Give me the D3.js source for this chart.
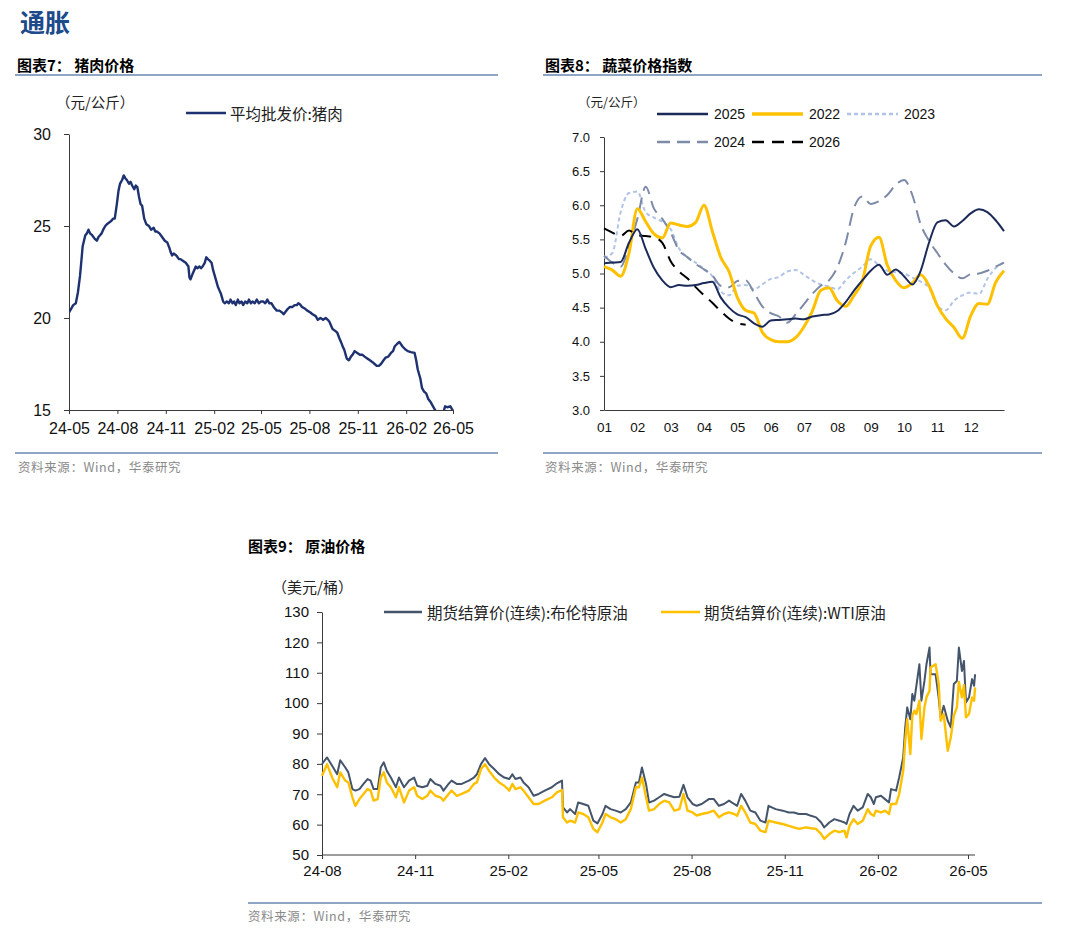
<!DOCTYPE html>
<html><head><meta charset="utf-8">
<script src="https://cdn.jsdelivr.net/npm/d3@7/dist/d3.min.js"></script>
<style>
body{margin:0;background:#fff;}
svg{display:block;}
</style></head><body>
<svg id="c" width="1080" height="946"></svg>
<script>
// ---------------- DATA ----------------
// 图表7 猪肉价格
const porkDates = ["2024-05-01","2024-05-05","2024-05-09","2024-05-14","2024-05-18","2024-05-22","2024-05-27","2024-06-01","2024-06-04","2024-06-07","2024-06-10","2024-06-14","2024-06-19","2024-06-23","2024-06-26","2024-06-29","2024-07-02","2024-07-05","2024-07-09","2024-07-12","2024-07-17","2024-07-21","2024-07-24","2024-07-27","2024-07-31","2024-08-03","2024-08-06","2024-08-10","2024-08-13","2024-08-16","2024-08-19","2024-08-23","2024-08-26","2024-08-29","2024-09-02","2024-09-05","2024-09-08","2024-09-11","2024-09-14","2024-09-17","2024-09-21","2024-09-25","2024-09-30","2024-10-04","2024-10-09","2024-10-12","2024-10-15","2024-10-20","2024-10-25","2024-10-30","2024-11-04","2024-11-08","2024-11-10","2024-11-13","2024-11-16","2024-11-21","2024-11-26","2024-11-29","2024-12-04","2024-12-09","2024-12-14","2024-12-16","2024-12-18","2024-12-22","2024-12-25","2024-12-28","2024-12-31","2025-01-04","2025-01-07","2025-01-10","2025-01-14","2025-01-17","2025-01-20","2025-01-24","2025-01-27","2025-01-30","2025-02-02","2025-02-05","2025-02-08","2025-02-11","2025-02-14","2025-02-18","2025-02-21","2025-02-25","2025-03-01","2025-03-04","2025-03-08","2025-03-11","2025-03-14","2025-03-18","2025-03-21","2025-03-25","2025-03-28","2025-04-01","2025-04-05","2025-04-08","2025-04-12","2025-04-15","2025-04-19","2025-04-23","2025-04-27","2025-05-01","2025-05-05","2025-05-09","2025-05-13","2025-05-17","2025-05-21","2025-05-25","2025-05-31","2025-06-05","2025-06-10","2025-06-13","2025-06-17","2025-06-21","2025-06-25","2025-06-30","2025-07-04","2025-07-08","2025-07-11","2025-07-14","2025-07-18","2025-07-24","2025-07-28","2025-08-03","2025-08-07","2025-08-13","2025-08-17","2025-08-22","2025-08-27","2025-09-01","2025-09-05","2025-09-08","2025-09-14","2025-09-19","2025-09-23","2025-09-27","2025-09-30","2025-10-04","2025-10-06","2025-10-09","2025-10-11","2025-10-15","2025-10-19","2025-10-22","2025-10-26","2025-10-31","2025-11-05","2025-11-10","2025-11-14","2025-11-19","2025-11-24","2025-11-29","2025-12-03","2025-12-07","2025-12-11","2025-12-15","2025-12-20","2025-12-24","2025-12-29","2026-01-03","2026-01-07","2026-01-10","2026-01-15","2026-01-19","2026-01-25","2026-01-30","2026-02-04","2026-02-10","2026-02-17","2026-02-20","2026-02-23","2026-02-28","2026-03-03","2026-03-07","2026-03-11","2026-03-15","2026-03-19","2026-03-24","2026-03-28","2026-04-01","2026-04-06","2026-04-11","2026-04-16","2026-04-20","2026-04-26","2026-05-01"];
const porkValues = [20.3,20.5,20.7,20.8,21.4,22.3,23.9,24.5,24.6,24.8,24.6,24.5,24.3,24.2,24.4,24.5,24.6,24.8,25.0,25.1,25.2,25.3,25.4,25.4,26.2,26.9,27.3,27.5,27.75,27.6,27.5,27.3,27.4,27.2,27.0,27.2,27.1,26.6,26.2,26.1,25.4,25.1,25.0,24.8,24.9,24.7,24.7,24.6,24.4,24.2,24.1,23.8,23.6,23.4,23.5,23.4,23.2,23.2,23.1,23.0,22.8,22.2,22.1,22.4,22.6,22.8,22.7,22.8,22.7,22.8,23.0,23.3,23.2,23.1,23.0,22.6,22.3,22.0,21.7,21.5,21.3,20.9,20.8,20.9,20.8,21.0,20.8,20.9,20.7,21.0,20.8,20.9,20.7,20.9,20.8,21.0,20.8,20.9,20.8,21.0,20.8,20.9,20.9,20.8,21.0,20.8,20.8,20.6,20.4,20.4,20.3,20.2,20.35,20.5,20.6,20.6,20.7,20.7,20.8,20.75,20.6,20.5,20.4,20.3,20.2,20.1,19.9,20.0,19.9,20.0,19.9,19.8,19.4,19.3,19.2,18.9,18.7,18.4,18.3,18.0,17.8,17.7,17.9,18.0,18.2,18.1,18.0,18.0,17.9,17.8,17.7,17.6,17.5,17.4,17.4,17.5,17.7,17.85,17.9,18.1,18.2,18.45,18.6,18.7,18.45,18.3,18.2,18.15,18.1,17.7,17.2,16.7,16.2,16.0,15.9,15.6,15.45,15.2,15.0,14.8,14.6,14.7,15.2,15.15,15.2,14.95];
const porkTicks = ["2024-05","2024-08","2024-11","2025-02","2025-05","2025-08","2025-11","2026-02","2026-05"];
const porkYTicks = [15,20,25,30];

// 图表8 蔬菜价格指数 (month position: 1 = 1月初, 13 = 12月末)
const vegPositions = [1,1.25,1.5,1.75,2,2.25,2.5,2.75,3,3.25,3.5,3.75,4,4.25,4.5,4.75,5,5.25,5.5,5.75,6,6.25,6.5,6.75,7,7.25,7.5,7.75,8,8.25,8.5,8.75,9,9.25,9.5,9.75,10,10.25,10.5,10.75,11,11.25,11.5,11.75,12,12.25,12.5,12.75,13];
const veg2025 = [5.15,5.16,5.17,5.45,5.65,5.36,5.08,4.9,4.8,4.83,4.82,4.83,4.86,4.88,4.65,4.5,4.4,4.36,4.27,4.22,4.31,4.32,4.33,4.34,4.33,4.37,4.39,4.4,4.45,4.58,4.75,4.9,5.04,5.13,4.98,5.06,4.96,4.84,5.04,5.45,5.75,5.78,5.69,5.77,5.88,5.94,5.9,5.78,5.62];
const veg2022 = [5.1,5.05,4.96,5.3,5.95,5.76,5.58,5.52,5.74,5.71,5.69,5.75,6.0,5.62,5.24,5.03,4.65,4.46,4.42,4.14,4.03,4.0,4.0,4.06,4.22,4.45,4.75,4.79,4.6,4.52,4.68,4.89,5.4,5.53,5.12,4.9,4.79,4.86,4.98,4.82,4.53,4.34,4.21,4.05,4.38,4.56,4.55,4.87,5.04];
const veg2023 = [5.23,5.3,5.9,6.18,6.2,5.9,5.82,5.76,5.65,5.37,5.24,5.16,5.07,4.96,4.74,4.68,4.82,4.83,4.77,4.84,4.92,4.95,5.03,5.05,4.98,4.9,4.84,4.81,4.77,4.9,5.01,5.1,5.21,5.12,5.04,5.02,5.0,4.94,4.88,4.79,4.53,4.46,4.6,4.68,4.72,4.7,4.92,5.08,5.16];
const veg2024 = [5.26,5.16,5.1,5.4,5.8,6.27,5.95,5.8,5.6,5.34,5.24,5.14,5.06,4.97,4.82,4.8,4.89,4.9,4.72,4.52,4.42,4.37,4.28,4.4,4.55,4.7,4.82,4.9,5.09,5.45,5.96,6.13,6.02,6.06,6.15,6.3,6.37,6.15,5.72,5.48,5.3,5.13,5.0,4.93,4.99,5.0,5.04,5.1,5.16];
const veg2026 = [5.66,5.6,5.55,5.63,5.56,5.55,5.53,5.45,5.18,5.03,4.93,4.8,4.68,4.57,4.45,4.34,4.27,4.25];
const vegMonthLabels = ["01","02","03","04","05","06","07","08","09","10","11","12"];
const vegYTicks = [3.0,3.5,4.0,4.5,5.0,5.5,6.0,6.5,7.0];

// 图表9 原油价格
const oilDates = ["2024-08-01","2024-08-06","2024-08-11","2024-08-16","2024-08-19","2024-08-24","2024-08-27","2024-08-31","2024-09-03","2024-09-07","2024-09-11","2024-09-15","2024-09-18","2024-09-21","2024-09-25","2024-09-28","2024-10-01","2024-10-04","2024-10-08","2024-10-13","2024-10-16","2024-10-21","2024-10-26","2024-10-31","2024-11-03","2024-11-08","2024-11-13","2024-11-16","2024-11-21","2024-11-26","2024-11-29","2024-12-04","2024-12-07","2024-12-12","2024-12-17","2024-12-24","2024-12-29","2025-01-01","2025-01-05","2025-01-09","2025-01-13","2025-01-18","2025-01-23","2025-01-28","2025-02-02","2025-02-05","2025-02-08","2025-02-13","2025-02-16","2025-02-21","2025-02-26","2025-03-03","2025-03-09","2025-03-16","2025-03-21","2025-03-26","2025-03-27","2025-03-31","2025-04-03","2025-04-08","2025-04-11","2025-04-16","2025-04-21","2025-04-26","2025-04-30","2025-05-05","2025-05-08","2025-05-13","2025-05-18","2025-05-23","2025-05-28","2025-06-02","2025-06-07","2025-06-10","2025-06-13","2025-06-17","2025-06-20","2025-06-25","2025-06-30","2025-07-05","2025-07-10","2025-07-15","2025-07-20","2025-07-24","2025-07-28","2025-08-02","2025-08-06","2025-08-11","2025-08-18","2025-08-23","2025-08-28","2025-09-02","2025-09-07","2025-09-12","2025-09-15","2025-09-19","2025-09-23","2025-09-28","2025-10-03","2025-10-08","2025-10-13","2025-10-16","2025-10-23","2025-10-30","2025-11-05","2025-11-10","2025-11-15","2025-11-22","2025-11-27","2025-12-02","2025-12-07","2025-12-10","2025-12-15","2025-12-20","2025-12-25","2025-12-30","2026-01-01","2026-01-04","2026-01-08","2026-01-12","2026-01-17","2026-01-22","2026-01-25","2026-01-28","2026-01-30","2026-02-04","2026-02-08","2026-02-12","2026-02-14","2026-02-19","2026-02-22","2026-02-26","2026-02-28","2026-03-02","2026-03-05","2026-03-07","2026-03-09","2026-03-11","2026-03-14","2026-03-16","2026-03-19","2026-03-21","2026-03-24","2026-03-25","2026-03-30","2026-04-02","2026-04-04","2026-04-07","2026-04-11","2026-04-14","2026-04-17","2026-04-20","2026-04-22","2026-04-25","2026-04-27","2026-04-29","2026-05-02","2026-05-05","2026-05-07","2026-05-08"];
const brentValues = [80.0,82.1,79.4,76.6,81.2,78.8,77.2,71.7,71.2,71.7,73.4,75.0,74.5,71.7,71.7,78.8,80.5,77.7,75.5,72.3,75.5,72.3,74.5,75.5,72.8,72.3,72.8,75.0,73.4,72.8,71.2,73.4,74.5,73.4,73.4,74.5,75.5,76.6,79.9,81.9,79.9,78.3,76.6,75.5,75.0,76.6,75.0,75.5,73.9,72.3,69.5,70.1,71.2,72.3,73.6,74.5,65.7,64.0,65.1,63.5,67.3,66.8,66.2,61.3,60.4,63.5,66.2,65.1,64.6,64.0,65.1,67.3,73.9,73.9,78.8,73.4,67.3,67.9,69.0,70.1,69.5,69.0,69.2,73.1,69.0,66.8,66.2,66.8,68.4,68.4,66.2,66.8,67.9,66.8,66.2,70.1,67.9,64.6,64.0,61.3,60.7,66.2,65.1,64.6,64.0,64.0,63.5,63.5,62.9,62.4,60.7,59.1,60.7,61.8,61.3,60.7,60.2,63.5,66.2,64.6,65.7,70.1,69.0,66.8,69.0,69.5,68.4,67.3,71.7,71.2,75.5,82.1,92.0,98.6,94.7,103.0,100.8,105.7,112.8,100.8,107.3,112.8,118.3,109.5,109.5,101.9,95.3,99.1,94.2,92.0,106.3,107.3,118.3,110.6,113.9,100.2,101.9,107.9,105.7,109.5];
const wtiValues = [76.1,79.9,75.5,72.3,77.2,74.5,73.9,69.0,66.2,68.4,70.1,71.7,71.2,67.9,68.4,75.5,77.2,73.9,72.3,69.0,72.3,67.3,71.2,72.3,69.5,68.4,69.5,71.2,69.5,69.0,67.9,70.1,71.2,69.5,70.1,71.2,73.4,73.9,78.3,79.9,77.7,75.5,73.9,72.8,71.2,73.4,71.7,72.3,71.2,69.0,66.8,66.8,67.9,69.0,70.6,71.4,62.4,60.7,61.3,60.7,64.0,63.5,62.4,58.6,57.5,60.7,63.5,62.4,61.8,60.7,61.8,65.1,72.3,72.3,75.5,69.0,64.6,65.1,66.8,67.9,67.3,64.6,65.1,70.1,64.6,64.0,63.0,63.5,64.0,64.6,62.4,63.5,64.0,63.5,62.9,66.2,64.0,60.7,60.2,58.0,57.5,61.3,60.7,60.2,59.6,59.1,58.6,59.1,58.8,58.6,56.9,55.3,56.9,58.0,57.5,58.0,55.8,59.6,61.8,60.2,61.3,65.1,63.5,62.9,64.6,64.0,64.6,63.5,66.8,66.8,70.0,77.7,87.6,94.7,83.2,95.8,97.5,96.4,100.8,88.2,98.6,101.9,104.1,111.7,112.8,106.5,94.2,96.4,84.3,88.7,95.8,98.6,107.0,101.9,105.9,95.3,96.4,101.9,100.8,105.2];
const oilTicks = ["2024-08","2024-11","2025-02","2025-05","2025-08","2025-11","2026-02","2026-05"];
const oilYTicks = [50,60,70,80,90,100,110,120,130];

// ---------------- DRAW ----------------
const svg = d3.select("#c");
const LAT = '"Liberation Sans", Arial, "Noto Sans CJK SC", sans-serif';
const CJK = '"Noto Sans CJK SC", "Liberation Sans", sans-serif';
const pDay = d3.timeParse("%Y-%m-%d");
const pMon = d3.timeParse("%Y-%m");
const fmtTick = d3.timeFormat("%y-%m");

function styleAxis(g, fs){
  g.attr("font-size", fs).attr("font-family", LAT);
  g.selectAll("path.domain").attr("stroke", "#3a3a3a").attr("stroke-width", 1);
  g.selectAll(".tick line").attr("stroke", "#3a3a3a");
  g.selectAll(".tick text").attr("fill", "#111");
}
function txt(x, y, s, opt){
  const t = svg.append("text").attr("x", x).attr("y", y).text(s)
    .attr("font-family", opt.ff || CJK).attr("font-size", opt.fs || 12)
    .attr("fill", opt.fill || "#000").attr("dominant-baseline", "central");
  if (opt.fw) t.attr("font-weight", opt.fw);
  if (opt.anchor) t.attr("text-anchor", opt.anchor);
  if (opt.ls) t.attr("letter-spacing", opt.ls);
  return t;
}
function rule(x1, x2, y){
  svg.append("line").attr("x1", x1).attr("x2", x2).attr("y1", y).attr("y2", y)
    .attr("stroke", "#8ea6c4").attr("stroke-width", 2);
}

// Headline
txt(20, 21, "通胀", {fs: 25, fw: 700, fill: "#1d4a8a"});

// ===== 图表7 =====
txt(17, 64, "图表7：  猪肉价格", {fs: 15, fw: 700});
rule(15, 498, 75);
txt(56, 101, "（元/公斤）", {fs: 14.5, fill: "#222"});

const x7 = d3.scaleTime().domain([pMon("2024-05"), pMon("2026-05")]).range([69, 453]);
const y7 = d3.scaleLinear().domain([15, 30]).range([410, 134]);
const g7y = svg.append("g").attr("transform", "translate(69,0)")
  .call(d3.axisLeft(y7).tickValues(porkYTicks).tickSize(5).tickPadding(13).tickSizeOuter(0));
styleAxis(g7y, 16);
const g7x = svg.append("g").attr("transform", "translate(0,410)")
  .call(d3.axisBottom(x7).tickValues(porkTicks.map(pMon)).tickFormat(fmtTick).tickSize(4).tickPadding(9).tickSizeOuter(0));
styleAxis(g7x, 16);

svg.append("clipPath").attr("id", "clip7").append("rect")
  .attr("x", 69).attr("y", 120).attr("width", 400).attr("height", 290);
const porkData = porkDates.map((d, i) => ({d: pDay(d), v: porkValues[i]}));
svg.append("path").datum(porkData).attr("clip-path", "url(#clip7)")
  .attr("fill", "none").attr("stroke", "#1e3170").attr("stroke-width", 2.4).attr("stroke-linejoin", "round")
  .attr("d", d3.line().x(p => x7(p.d)).y(p => y7(p.v)));
// legend
svg.append("line").attr("x1", 186).attr("x2", 226).attr("y1", 113).attr("y2", 113)
  .attr("stroke", "#1e3170").attr("stroke-width", 2.5);
txt(230, 113, "平均批发价:猪肉", {fs: 15.5, fill: "#222"});

rule(15, 498, 453);
txt(18, 466, "资料来源：Wind，华泰研究", {fs: 12.5, fill: "#8a8a8a", ls: 0.6});

// ===== 图表8 =====
txt(545, 64, "图表8：  蔬菜价格指数", {fs: 15, fw: 700});
rule(543, 1042, 75);
txt(578, 101, "（元/公斤）", {fs: 12.5, fill: "#222"});

const x8 = d3.scaleLinear().domain([1, 13]).range([604, 1004]);
const y8 = d3.scaleLinear().domain([3, 7]).range([410, 137]);
const g8y = svg.append("g").attr("transform", "translate(604,0)")
  .call(d3.axisLeft(y8).tickValues(vegYTicks).tickFormat(d3.format(".1f")).tickSize(4).tickPadding(10).tickSizeOuter(0));
styleAxis(g8y, 13);
const g8x = svg.append("g").attr("transform", "translate(0,410)")
  .call(d3.axisBottom(x8).tickValues(d3.range(1, 13)).tickFormat((d, i) => vegMonthLabels[i]).tickSize(0).tickPadding(12).tickSizeOuter(0));
styleAxis(g8x, 13.5);

const vegSeries = [
  {name: "2023", vals: veg2023, color: "#b1c3e6", w: 2, dash: "4,3"},
  {name: "2024", vals: veg2024, color: "#7d8aa8", w: 2, dash: "13,7"},
  {name: "2022", vals: veg2022, color: "#ffc000", w: 3, dash: null},
  {name: "2026", vals: veg2026, color: "#000000", w: 2, dash: "12,8"},
  {name: "2025", vals: veg2025, color: "#1b2a58", w: 2, dash: null}
];
const line8 = d3.line().x((v, i) => x8(vegPositions[i])).y(v => y8(v)).curve(d3.curveMonotoneX);
vegSeries.forEach(s => {
  const p = svg.append("path").datum(s.vals).attr("fill", "none")
    .attr("stroke", s.color).attr("stroke-width", s.w).attr("stroke-linejoin", "round")
    .attr("d", line8);
  if (s.dash) p.attr("stroke-dasharray", s.dash);
});
// legend
const vegLegend = [
  {name: "2025", x: 657, y: 114}, {name: "2022", x: 752, y: 114}, {name: "2023", x: 847, y: 114},
  {name: "2024", x: 657, y: 142}, {name: "2026", x: 752, y: 142}
];
vegLegend.forEach(l => {
  const s = vegSeries.find(v => v.name === l.name);
  const ln = svg.append("line").attr("x1", l.x).attr("x2", l.x + 51).attr("y1", l.y).attr("y2", l.y)
    .attr("stroke", s.color).attr("stroke-width", s.w + 0.5);
  if (s.dash) ln.attr("stroke-dasharray", s.dash);
  txt(l.x + 57, l.y, l.name, {ff: LAT, fs: 14, fill: "#111"});
});

rule(543, 1042, 453);
txt(545, 466, "资料来源：Wind，华泰研究", {fs: 12.5, fill: "#8a8a8a", ls: 0.6});

// ===== 图表9 =====
txt(248, 545, "图表9：  原油价格", {fs: 15, fw: 700});
txt(272, 586, "（美元/桶）", {fs: 15, fill: "#222"});

const x9 = d3.scaleTime().domain([pMon("2024-08"), pMon("2026-05")]).range([322, 968]);
const y9 = d3.scaleLinear().domain([50, 130]).range([855, 612]);
const g9y = svg.append("g").attr("transform", "translate(322,0)")
  .call(d3.axisLeft(y9).tickValues(oilYTicks).tickSize(5).tickPadding(8).tickSizeOuter(0));
styleAxis(g9y, 15);
const g9x = svg.append("g").attr("transform", "translate(0,855)")
  .call(d3.axisBottom(x9).tickValues(oilTicks.map(pMon)).tickFormat(fmtTick).tickSize(4).tickPadding(6).tickSizeOuter(0));
styleAxis(g9x, 15);
g9x.select("path.domain").attr("d", "M322,0H975");

const oilD = oilDates.map(pDay);
const line9 = d3.line().x((v, i) => x9(oilD[i])).y(v => y9(v));
svg.append("path").datum(brentValues).attr("fill", "none").attr("stroke", "#44546a")
  .attr("stroke-width", 2).attr("stroke-linejoin", "round").attr("d", line9);
svg.append("path").datum(wtiValues).attr("fill", "none").attr("stroke", "#ffc000")
  .attr("stroke-width", 2.4).attr("stroke-linejoin", "round").attr("d", line9);
// legend
svg.append("line").attr("x1", 384).attr("x2", 422).attr("y1", 612).attr("y2", 612)
  .attr("stroke", "#44546a").attr("stroke-width", 2.5);
txt(427, 612, "期货结算价(连续):布伦特原油", {fs: 15.5, fill: "#222"});
svg.append("line").attr("x1", 661).attr("x2", 700).attr("y1", 612).attr("y2", 612)
  .attr("stroke", "#ffc000").attr("stroke-width", 2.5);
txt(704, 612, "期货结算价(连续):WTI原油", {fs: 15.5, fill: "#222"});

rule(248, 1042, 903);
txt(248, 915, "资料来源：Wind，华泰研究", {fs: 12.5, fill: "#8a8a8a", ls: 0.6});
</script>
</body></html>
